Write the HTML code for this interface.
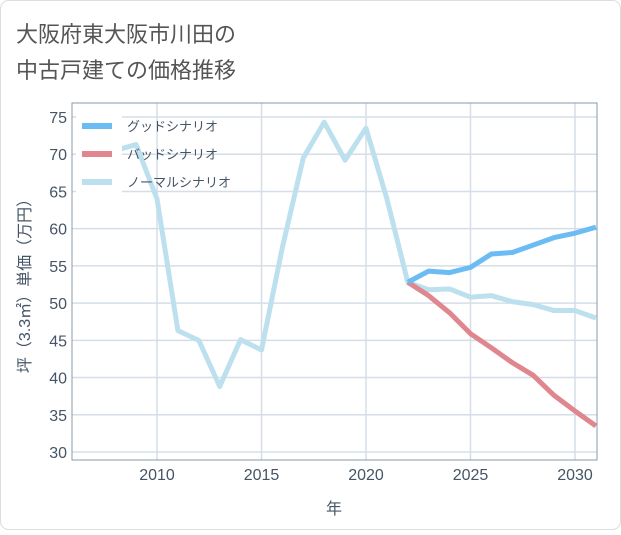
<!DOCTYPE html>
<html><head><meta charset="utf-8"><style>
body{margin:0;background:#fff;font-family:"Liberation Sans","Noto Sans CJK JP",sans-serif;}
#wrap{position:relative;width:621px;height:530px;}
</style></head><body>
<div id="wrap">
<svg id="chart" width="621" height="530" xmlns="http://www.w3.org/2000/svg">
<rect x="0.5" y="0.5" width="620" height="529" rx="8" fill="#fff" stroke="#ddd"/>
<text x="16" y="42" font-size="22" fill="#555">大阪府東大阪市川田の</text>
<text x="16" y="78" font-size="22" fill="#555">中古戸建ての価格推移</text>
<g id="grid"></g>
<g id="series"></g>
<g id="legend"></g>
<rect x="72" y="103" width="525" height="357" fill="none" stroke="#8899aa"/>
<text x="334" y="514" font-size="16" fill="#445566" text-anchor="middle">年</text>
<text transform="translate(30,282) rotate(-90)" font-size="16" fill="#445566" text-anchor="middle">坪（3.3㎡）単価（万円）</text>
</svg>
</div>
<script>
const yTicks=[30,35,40,45,50,55,60,65,70,75];
const xTicks=[2010,2015,2020,2025,2030];
const normalYears=[2008,2009,2010,2011,2012,2013,2014,2015,2016,2017,2018,2019,2020,2021,2022,2023,2024,2025,2026,2027,2028,2029,2030,2031];
const normalValues=[70.5,71.3,64,46.3,45,38.8,45.1,43.7,57.5,69.5,74.3,69.2,73.5,64,52.8,51.8,51.9,50.8,51,50.2,49.8,49,49,48];
const forecastYears=[2022,2023,2024,2025,2026,2027,2028,2029,2030,2031];
const goodValues=[52.8,54.3,54.1,54.8,56.6,56.8,57.8,58.8,59.4,60.2];
const badValues=[52.8,51.0,48.7,45.9,44.0,42.0,40.3,37.6,35.5,33.5];
const legendLabels=['グッドシナリオ','バッドシナリオ','ノーマルシナリオ'];
const legendColors=['#6bbcf3','#e0868e','#bde0ee'];
const NS='http://www.w3.org/2000/svg';
const X0=72,X1=597,Y0=103,Y1=460;
function xs(v){return 157+(v-2010)*(575-157)/20;}
function ys(v){return 452-(v-30)*(452-117)/45;}
function mk(t,a,p){const e=document.createElementNS(NS,t);for(const k in a)e.setAttribute(k,a[k]);p.appendChild(e);return e;}
const grid=document.getElementById('grid');
yTicks.forEach(v=>{
 const l=mk('line',{x1:X0,x2:X1,y1:ys(v),y2:ys(v),stroke:'#d5dee8','stroke-width':1.5},grid);
 
 
 const t=mk('text',{x:X0-5,y:ys(v)+6,'font-size':16,fill:'#445566','text-anchor':'end'},grid);
 t.textContent=v;
 
 
});
xTicks.forEach(v=>{
 const l=mk('line',{x1:xs(v),x2:xs(v),y1:Y0,y2:Y1,stroke:'#d5dee8','stroke-width':1.5},grid);
 
 
 const t=mk('text',{x:xs(v),y:480,'font-size':16,fill:'#445566','text-anchor':'middle'},grid);
 t.textContent=v;
 
 
});
const ser=document.getElementById('series');
function line(years,vals,color,name){
 const p=mk('polyline',{points:years.map((y,i)=>xs(y)+','+ys(vals[i])).join(' '),fill:'none',stroke:color,'stroke-width':5,'stroke-linejoin':'round'},ser);
 
 
}
line(normalYears,normalValues,legendColors[2],'normal-scenario-line');
line(forecastYears,badValues,legendColors[1],'bad-scenario-line');
line(forecastYears,goodValues,legendColors[0],'good-scenario-line');
const lg=document.getElementById('legend');
const bg=mk('rect',{x:76,y:110,width:46,height:84,fill:'#fff'},lg);


legendLabels.forEach((s,i)=>{
 const y=126+i*28;
 const l=mk('line',{x1:82,x2:112,y1:y,y2:y,stroke:legendColors[i],'stroke-width':6},lg);
 
 
 const t=mk('text',{x:127,y:y+5,'font-size':13,fill:'#445566'},lg);
 t.textContent=s;
 
 
});
</script>
</body></html>
